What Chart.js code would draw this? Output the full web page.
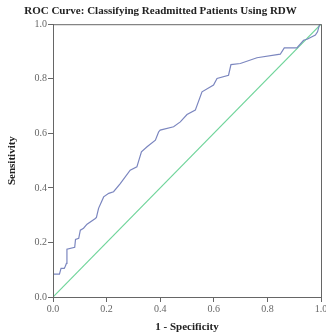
<!DOCTYPE html>
<html>
<head>
<meta charset="utf-8">
<script src="https://cdn.jsdelivr.net/npm/chart.js@4"></script>
<style>
  html, body { margin: 0; padding: 0; background: #fff; }
  #wrap { width: 326px; height: 332px; }
</style>
</head>
<body>
<div id="wrap"><canvas id="roc" width="326" height="332"></canvas></div>
<script>
// ---------- Data ----------

const fpr = [
  0, 0, 0.024, 0.030, 0.042, 0.046, 0.050, 0.052, 0.081, 0.084, 0.096, 0.102,
  0.114, 0.127, 0.158, 0.162, 0.170, 0.189, 0.208, 0.226, 0.251, 0.288, 0.313,
  0.330, 0.351, 0.382, 0.394, 0.400, 0.450, 0.475, 0.500, 0.531, 0.556, 0.599,
  0.612, 0.655, 0.664, 0.699, 0.761, 0.848, 0.863, 0.910, 0.935, 0.948, 0.979,
  0.987, 0.995, 1.0,
];
const tpr = [
  0, 0.084, 0.084, 0.105, 0.105, 0.113, 0.123, 0.175, 0.182, 0.211, 0.215, 0.245,
  0.252, 0.267, 0.288, 0.292, 0.325, 0.367, 0.380, 0.386, 0.416, 0.465, 0.477,
  0.532, 0.551, 0.575, 0.605, 0.612, 0.624, 0.642, 0.669, 0.685, 0.752, 0.777,
  0.801, 0.813, 0.852, 0.856, 0.877, 0.890, 0.913, 0.913, 0.941, 0.945, 0.960,
  0.972, 1.0, 1.0,
];
const refX = [0, 1];
const refY = [0, 1];
const ticks = [0, 0.2, 0.4, 0.6, 0.8, 1.0];

const SERIF = '"Liberation Serif", "DejaVu Serif", serif';

// ---------- Plugins ----------

// box around the plot like SPSS
const frame = {
  id: 'frame',
  afterDraw(chart) {
    const { ctx, chartArea: a } = chart;
    ctx.save();
    ctx.strokeStyle = '#666';
    ctx.lineWidth = 1;
    ctx.strokeRect(a.left + 0.5, a.top + 0.5, a.right - a.left, a.bottom - a.top);
    ctx.restore();
  },
};

const noPad = (w, h) => (s) => {
  if (w) s.width = w;
  if (h) s.height = h;
  s.paddingLeft = 0;
  s.paddingRight = 0;
  s.paddingTop = 0;
  s.paddingBottom = 0;
};

// ---------- Chart ----------

new Chart(document.getElementById('roc').getContext('2d'), {
  type: 'scatter',
  data: {
    datasets: [
      {
        data: fpr.map((x, i) => ({ x, y: tpr[i] })),
        showLine: true,
        borderColor: '#7b86bf',
        borderWidth: 1.2,
        pointRadius: 0,
        tension: 0,
      },
      {
        data: refX.map((x, i) => ({ x, y: refY[i] })),
        showLine: true,
        borderColor: '#6fd49a',
        borderWidth: 1.2,
        pointRadius: 0,
      },
    ],
  },
  plugins: [frame],
  options: {
    responsive: false,
    animation: false,
    layout: { padding: { left: 0, right: 5, top: 0, bottom: 0 } },
    plugins: {
      legend: { display: false },
      tooltip: { enabled: false },
      title: {
        display: true,
        text: 'ROC Curve: Classifying Readmitted Patients Using RDW',
        color: '#222',
        font: { family: SERIF, size: 11, weight: 'bold' },
        padding: { top: 5, bottom: 6 },
      },
    },
    scales: {
      x: {
        type: 'linear',
        min: 0,
        max: 1,
        afterBuildTicks: (s) => { s.ticks = ticks.map(v => ({ value: v })); },
        afterFit: noPad(null, 35),
        ticks: {
          color: '#666',
          font: { family: SERIF, size: 10 },
          padding: 1,
          maxRotation: 0,
          callback: (v) => v.toFixed(1),
        },
        grid: { drawOnChartArea: false, tickLength: 5, color: '#666' },
        border: { color: '#666' },
        title: {
          display: true,
          text: '1 - Specificity',
          color: '#222',
          font: { family: SERIF, size: 11, weight: 'bold' },
          padding: { top: 6, bottom: -2 },
        },
      },
      y: {
        type: 'linear',
        min: 0,
        max: 1,
        afterBuildTicks: (s) => { s.ticks = ticks.map(v => ({ value: v })); },
        afterFit: noPad(53, null),
        ticks: {
          color: '#666',
          font: { family: SERIF, size: 10 },
          padding: 1,
          callback: (v) => v.toFixed(1),
        },
        grid: { drawOnChartArea: false, tickLength: 5, color: '#666' },
        border: { color: '#666' },
        title: {
          display: true,
          text: 'Sensitivity',
          color: '#222',
          font: { family: SERIF, size: 11, weight: 'bold' },
          padding: { top: 6, bottom: 0 },
        },
      },
    },
  },
});
</script>
</body>
</html>
